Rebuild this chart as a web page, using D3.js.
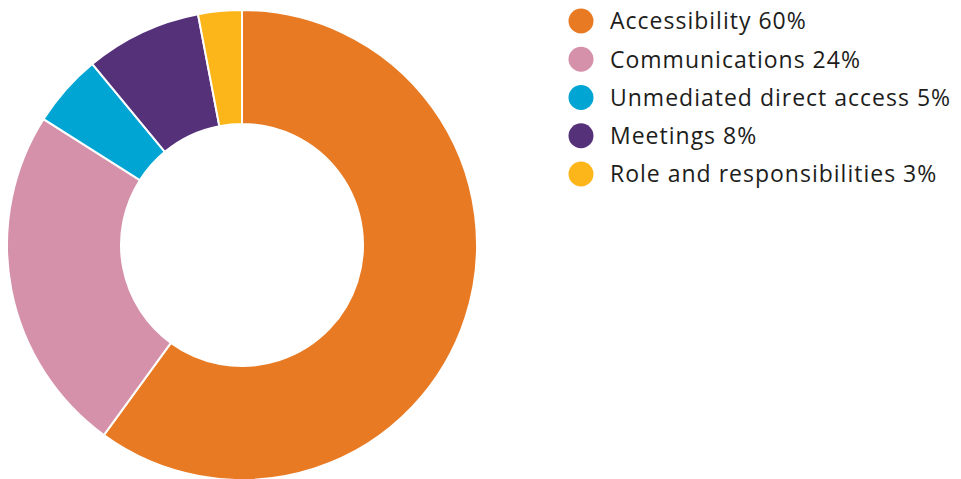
<!DOCTYPE html>
<html>
<head>
<meta charset="utf-8">
<script src="https://cdn.jsdelivr.net/npm/d3@7"></script>
<style>
  html, body { margin: 0; padding: 0; background: #fff; }
  svg { display: block; }
</style>
</head>
<body>
<svg id="chart" width="961" height="479"></svg>
<script>
// Share of issues raised, by category
const categories = ["Accessibility", "Communications", "Unmediated direct access", "Meetings", "Role and responsibilities"];
const values = [60, 24, 5, 8, 3];
const colors = ["#E87A24", "#D591A9", "#00A5D3", "#55317A", "#FDB61A"];

const svg = d3.select("#chart");
const cx = 242, cy = 245, outerR = 235, innerR = 121;

const data = categories.map((c, i) => ({ name: c, value: values[i], color: colors[i] }));

const pie = d3.pie().value(d => d.value).sort(null);
const arc = d3.arc().innerRadius(innerR).outerRadius(outerR);

svg.append("g")
  .attr("transform", `translate(${cx},${cy})`)
  .selectAll("path")
  .data(pie(data))
  .join("path")
  .attr("d", arc)
  .attr("fill", d => d.data.color)
  .attr("stroke", "#fff")
  .attr("stroke-width", 2);

// Legend
const legendY = d3.scalePoint().domain(categories).range([21, 174]);
const legend = svg.append("g")
  .selectAll("g")
  .data(data)
  .join("g")
  .attr("transform", d => `translate(581,${legendY(d.name)})`);

legend.append("circle")
  .attr("r", 12.5)
  .attr("fill", d => d.color);

legend.append("text")
  .attr("x", 29)
  .attr("dy", "0.36em")
  .attr("font-family", "'Open Sans', sans-serif")
  .attr("font-size", 23)
  .attr("letter-spacing", 1.0)
  .attr("fill", "#1d1d1b")
  .text(d => `${d.name} ${d.value}%`);
</script>
</body>
</html>
